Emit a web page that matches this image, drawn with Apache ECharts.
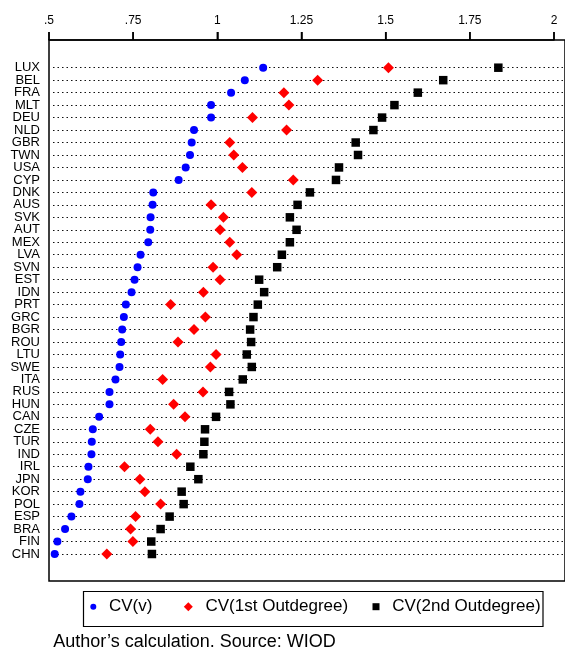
<!DOCTYPE html>
<html>
<head>
<meta charset="utf-8">
<script src="https://cdn.jsdelivr.net/npm/echarts@6/dist/echarts.min.js"></script>
<style>html,body{margin:0;padding:0;background:#fff;}#c{width:565px;height:650px;}</style>
</head>
<body>
<div id="c"></div>
<script>
const countries = ['LUX','BEL','FRA','MLT','DEU','NLD','GBR','TWN','USA','CYP','DNK','AUS','SVK','AUT','MEX','LVA','SVN','EST','IDN','PRT','GRC','BGR','ROU','LTU','SWE','ITA','RUS','HUN','CAN','CZE','TUR','IND','IRL','JPN','KOR','POL','ESP','BRA','FIN','CHN'];
const cvV = [1.141,1.086,1.045,0.985,0.985,0.934,0.927,0.922,0.909,0.888,0.812,0.810,0.804,0.803,0.797,0.774,0.765,0.756,0.747,0.730,0.724,0.719,0.716,0.713,0.711,0.699,0.681,0.681,0.650,0.631,0.628,0.627,0.618,0.616,0.594,0.591,0.567,0.548,0.525,0.517];
const cv1st = [1.516,1.304,1.203,1.218,1.109,1.211,1.041,1.053,1.079,1.231,1.107,0.985,1.022,1.012,1.041,1.062,0.991,1.012,0.962,0.864,0.968,0.934,0.886,1.000,0.983,0.840,0.961,0.873,0.907,0.803,0.826,0.882,0.726,0.772,0.787,0.834,0.759,0.744,0.751,0.673];
const cv2nd = [1.845,1.680,1.604,1.534,1.497,1.471,1.418,1.425,1.368,1.359,1.281,1.244,1.221,1.241,1.221,1.197,1.183,1.129,1.144,1.125,1.112,1.102,1.105,1.092,1.107,1.080,1.039,1.043,1.000,0.967,0.965,0.962,0.923,0.947,0.897,0.903,0.861,0.834,0.806,0.808];
const xTicks = [0.5,0.75,1,1.25,1.5,1.75,2];
const xStep = 0.25;
const seriesNames = ['CV(v)','CV(1st Outdegree)','CV(2nd Outdegree)'];
const caption = 'Author\u2019s calculation. Source: WIOD';

const FONT = "'Liberation Sans', Arial, Helvetica, sans-serif";
const xMinTick = xTicks[0], xMaxTick = xTicks[xTicks.length - 1];
const GL = 49, GAW = 505;              // tick grid: 0.5 -> 49px, 2 -> 554px
const PX = GAW / (xMaxTick - xMinTick); // pixels per unit
const FW = 520;                          // frame grid width (runs off the right edge)
const G2L = 53;                          // points grid (dotted lines start a bit right)
const x2Min = xMinTick + (G2L - GL) / PX;
const x2Max = xMinTick + FW / PX;
const TICK_LEN = 8;

const chart = echarts.init(document.getElementById('c'));
function pairs(arr){ return arr.map((v,i)=>[v, countries[i]]); }

const legendText = {fontFamily: FONT, fontSize: 17, color: '#000', padding: [0,0,0,7.7]};
function legendFor(i, left, size){
  return {data: [seriesNames[i]], left: left - size/2, top: 598.2, padding: 0,
    itemWidth: size, itemHeight: size, textStyle: legendText, selectedMode: false};
}

chart.setOption({
  animation: false,
  title: {
    text: caption, left: 53.3, top: 632.7, padding: 0,
    textStyle: {fontFamily: FONT, fontSize: 18, fontWeight: 'normal', color: '#000'}
  },
  legend: [
    legendFor(0, 93.3, 6),
    legendFor(1, 188.3, 9),
    legendFor(2, 376, 7)
  ],
  graphic: [{
    type: 'rect', left: 81, top: 589, silent: true,
    shape: {width: 459.5, height: 35},
    style: {fill: 'none', stroke: '#000', lineWidth: 1.2}
  }],
  grid: [
    {left: GL, top: 40, width: GAW, height: 541},
    {left: GL, top: 40, width: FW, height: 541, show: true, borderColor: '#000', borderWidth: 1.5, backgroundColor: 'transparent'},
    {left: G2L, top: 67.7, width: FW - (G2L - GL), height: 486.3}
  ],
  xAxis: [
    {
      gridIndex: 0, type: 'value', position: 'top', min: xMinTick, max: xMaxTick, interval: xStep,
      axisLine: {show: true, onZero: false, lineStyle: {color: '#000', width: 1.5}},
      axisTick: {show: true, length: TICK_LEN, lineStyle: {color: '#000', width: 1.5}},
      axisLabel: {margin: 13, fontSize: 12, color: '#000', fontFamily: FONT,
        formatter: v => String(v).replace(/^0\./, '.')},
      splitLine: {show: false}
    },
    {gridIndex: 1, type: 'value', min: 0, max: 1, show: false},
    {gridIndex: 2, type: 'value', min: x2Min, max: x2Max, show: false}
  ],
  yAxis: [
    {gridIndex: 0, type: 'value', show: false, min: 0, max: 1},
    {gridIndex: 1, type: 'value', show: false},
    {
      gridIndex: 2, type: 'category', data: countries, inverse: true, boundaryGap: false,
      axisLine: {show: false}, axisTick: {show: false},
      axisLabel: {margin: 13, fontSize: 13, color: '#000', fontFamily: FONT, interval: 0},
      splitLine: {show: true, interval: 0, lineStyle: {color: '#111', width: 1, type: [1.5, 3]}}
    }
  ],
  series: [
    {
      name: 'ticks', type: 'custom', xAxisIndex: 0, yAxisIndex: 0, clip: false, silent: true,
      data: xTicks.map(v => [v, 1]),
      renderItem: function(params, api){
        const p = api.coord([api.value(0), api.value(1)]);
        return {type: 'line', shape: {x1: p[0], y1: p[1], x2: p[0], y2: p[1] - TICK_LEN},
          style: {stroke: '#000', lineWidth: 1.5}};
      }
    },
    {name: seriesNames[0], type: 'scatter', xAxisIndex: 2, yAxisIndex: 2, data: pairs(cvV),
      symbol: 'circle', symbolSize: 8, itemStyle: {color: '#0000ff', opacity: 1}},
    {name: seriesNames[1], type: 'scatter', xAxisIndex: 2, yAxisIndex: 2, data: pairs(cv1st),
      symbol: 'diamond', symbolSize: 11, itemStyle: {color: '#ff0000', opacity: 1}},
    {name: seriesNames[2], type: 'scatter', xAxisIndex: 2, yAxisIndex: 2, data: pairs(cv2nd),
      symbol: 'rect', symbolSize: 8.5, itemStyle: {color: '#000000', opacity: 1}}
  ]
});
</script>
</body>
</html>
